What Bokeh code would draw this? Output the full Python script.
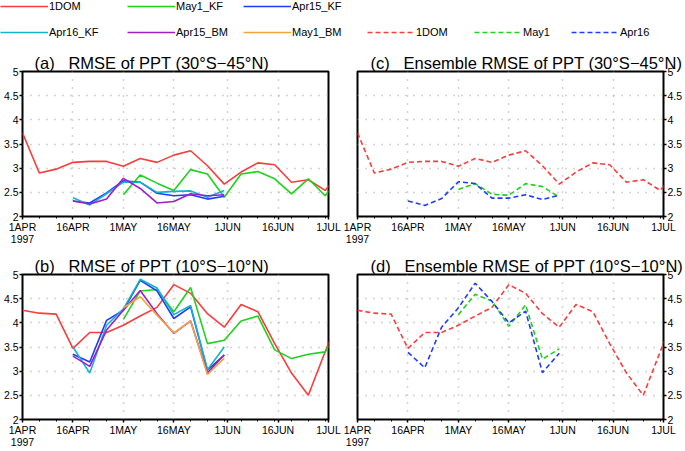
from bokeh.plotting import figure
from bokeh.models import Range1d, FixedTicker, Title, Legend, LegendItem
from bokeh.layouts import column, row
from bokeh.embed import file_html
from bokeh.resources import INLINE

# ---------------- data (days since 1 APR 1997) ----------------
days_dom = [0, 5, 10, 15, 20, 25, 30, 35, 40, 45, 50, 55, 60, 65, 70, 75, 80, 85, 90, 95]
days_apr = [15, 20, 25, 30, 35, 40, 45, 50, 55, 60]
days_may = [30, 35, 40, 45, 50, 55, 60, 65, 70, 75, 80, 85, 90, 95]
days_may_short = [30, 35, 40, 45, 50, 55, 60]

x_tick_days = [0, 15, 30, 45, 61, 76, 91]
x_tick_labels = ["1APR\n1997", "16APR", "1MAY", "16MAY", "1JUN", "16JUN", "1JUL"]
y_ticks = [2, 2.5, 3, 3.5, 4, 4.5, 5]
y_tick_labels = ["2", "2.5", "3", "3.5", "4", "4.5", "5"]

# (a) RMSE 30S-45N
dom_a = [3.73, 2.90, 2.98, 3.12, 3.14, 3.14, 3.04, 3.20, 3.12, 3.27, 3.36, 3.05,
         2.67, 2.92, 3.11, 3.07, 2.71, 2.76, 2.54, 2.96]
may1kf_a = [2.45, 2.86, 2.69, 2.54, 2.97, 2.88, 2.40, 2.88, 2.93, 2.78, 2.47, 2.78, 2.43, 2.85]
apr15kf_a = [2.32, 2.28, 2.49, 2.74, 2.71, 2.48, 2.43, 2.45, 2.36, 2.42]
apr16kf_a = [2.39, 2.24, 2.47, 2.71, 2.71, 2.50, 2.52, 2.53, 2.40, 2.54]
apr15bm_a = [2.32, 2.26, 2.36, 2.79, 2.58, 2.28, 2.31, 2.47, 2.43, 2.45]

# (c) ensemble RMSE 30S-45N
may1_c = [2.56, 2.68, 2.46, 2.44, 2.68, 2.62, 2.40]
apr16_c = [2.32, 2.23, 2.37, 2.72, 2.68, 2.38, 2.38, 2.45, 2.35, 2.44]

# (b) RMSE 10S-10N
dom_b = [4.26, 4.20, 4.18, 3.47, 3.80, 3.80, 3.95, 4.14, 4.32, 4.79, 4.61, 4.19,
         3.91, 4.38, 4.23, 3.57, 2.96, 2.50, 3.40, 4.25]
may1kf_b = [4.07, 4.66, 4.69, 4.23, 4.73, 3.57, 3.64, 4.04, 4.14, 3.44, 3.26, 3.35, 3.40, 3.90]
apr15kf_b = [3.35, 3.19, 4.05, 4.26, 4.88, 4.66, 4.09, 4.33, 3.02, 3.33]
apr16kf_b = [3.50, 2.96, 3.95, 4.29, 4.90, 4.72, 4.17, 4.36, 3.03, 3.50]
apr15bm_b = [3.31, 3.10, 3.85, 4.26, 4.67, 4.19, 3.78, 4.04, 2.96, 3.34]
may1bm_b = [4.31, 4.54, 4.16, 3.79, 4.04, 2.93, 3.27]

# (d) ensemble RMSE 10S-10N
may1_d = [4.17, 4.59, 4.45, 3.93, 4.37, 3.25, 3.46]
apr16_d = [3.39, 3.07, 3.91, 4.31, 4.82, 4.44, 4.00, 4.24, 2.97, 3.37]

# ---------------- styles ----------------
C_RED = "#fa3c3c"
C_GREEN = "#1ed21e"
C_BLUE = "#1e3cff"
C_CYAN = "#14b4c8"
C_PURPLE = "#a01ec8"
C_ORANGE = "#f0a53c"
LW = 1.6
DASH = "5 3"
TICK_FONT = "Liberation Sans"
TITLE_FONT = "Liberation Sans"
GAP = "\u00a0\u00a0\u00a0"


def make_panel(width, height, mb_l, mb_r, mb_t, mb_b, yloc, title_text, title_offset):
    p = figure(width=width, height=height, x_range=Range1d(0, 91), y_range=Range1d(2, 5),
               output_backend="svg", toolbar_location=None, y_axis_location=yloc,
               min_border_left=mb_l, min_border_right=mb_r,
               min_border_top=mb_t, min_border_bottom=mb_b)
    p.background_fill_color = "white"
    p.border_fill_color = "white"
    p.outline_line_color = "black"
    p.outline_line_width = 2
    p.xaxis.ticker = FixedTicker(ticks=x_tick_days, minor_ticks=days_dom)
    p.xaxis.major_label_overrides = dict(zip(x_tick_days, x_tick_labels))
    p.yaxis.ticker = FixedTicker(ticks=y_ticks)
    p.yaxis.major_label_overrides = dict(zip(y_ticks, y_tick_labels))
    for ax in (p.xaxis, p.yaxis):
        ax.axis_line_color = None
        ax.major_tick_line_color = "black"
        ax.major_tick_line_width = 1.5
        ax.major_tick_in = 0
        ax.major_tick_out = 3
        ax.minor_tick_line_color = "black"
        ax.minor_tick_in = 0
        ax.minor_tick_out = 2
        ax.major_label_standoff = 1
        ax.major_label_text_font = TICK_FONT
        ax.major_label_text_font_size = "10.5px"
        ax.major_label_text_color = "black"
    p.yaxis.minor_tick_line_color = None
    p.xaxis.major_label_text_line_height = 1.0
    p.xgrid.ticker = FixedTicker(ticks=x_tick_days[1:-1])
    p.ygrid.ticker = FixedTicker(ticks=y_ticks[1:-1])
    p.grid.grid_line_color = "#a8a8a8"
    p.grid.grid_line_dash = "1 7"
    p.grid.grid_line_width = 1.5
    p.add_layout(Title(text=title_text, align="left", offset=title_offset, standoff=0,
                       text_font=TITLE_FONT, text_font_size="16.5px",
                       text_font_style="normal", text_color="black"), "above")
    return p


pa = make_panel(342, 200, 21, 14, 21, 34, "left",
                "(a)" + GAP + "RMSE of PPT (30\u00b0S\u221245\u00b0N)", 12)
pc = make_panel(343, 200, 15, 20, 21, 34, "right",
                "(c)" + GAP + "Ensemble RMSE of PPT (30\u00b0S\u221245\u00b0N)", 13)
pb = make_panel(342, 201, 21, 14, 24, 32, "left",
                "(b)" + GAP + "RMSE of PPT (10\u00b0S\u221210\u00b0N)", 12)
pd = make_panel(343, 201, 15, 20, 24, 32, "right",
                "(d)" + GAP + "Ensemble RMSE of PPT (10\u00b0S\u221210\u00b0N)", 13)

# (a)
pa.line(days_dom, dom_a, color=C_RED, line_width=LW)
pa.line(days_may, may1kf_a, color=C_GREEN, line_width=LW)
pa.line(days_apr, apr15kf_a, color=C_BLUE, line_width=LW)
pa.line(days_apr, apr16kf_a, color=C_CYAN, line_width=LW)
pa.line(days_apr, apr15bm_a, color=C_PURPLE, line_width=LW)
# (c)
pc.line(days_dom, dom_a, color=C_RED, line_width=LW, line_dash=DASH)
pc.line(days_may_short, may1_c, color=C_GREEN, line_width=LW, line_dash=DASH)
pc.line(days_apr, apr16_c, color=C_BLUE, line_width=LW, line_dash=DASH)
# (b)
pb.line(days_dom, dom_b, color=C_RED, line_width=LW)
pb.line(days_may, may1kf_b, color=C_GREEN, line_width=LW)
pb.line(days_apr, apr15kf_b, color=C_BLUE, line_width=LW)
pb.line(days_apr, apr16kf_b, color=C_CYAN, line_width=LW)
pb.line(days_apr, apr15bm_b, color=C_PURPLE, line_width=LW)
pb.line(days_may_short, may1bm_b, color=C_ORANGE, line_width=LW)
# (d)
pd.line(days_dom, dom_b, color=C_RED, line_width=LW, line_dash=DASH)
pd.line(days_may_short, may1_d, color=C_GREEN, line_width=LW, line_dash=DASH)
pd.line(days_apr, apr16_d, color=C_BLUE, line_width=LW, line_dash=DASH)

# ---------------- legend strip ----------------
leg = figure(width=685, height=50, x_range=Range1d(0, 1), y_range=Range1d(0, 1),
             x_axis_type=None, y_axis_type=None, output_backend="svg", toolbar_location=None,
             min_border_left=0, min_border_right=0, min_border_top=0, min_border_bottom=0)
leg.outline_line_color = None
leg.grid.visible = False

legend_entries = [
    ("1DOM", C_RED, None, 0, 38),
    ("May1_KF", C_GREEN, None, 127, 38),
    ("Apr15_KF", C_BLUE, None, 243, 38),
    ("Apr16_KF", C_CYAN, None, 0, 12),
    ("Apr15_BM", C_PURPLE, None, 127, 12),
    ("May1_BM", C_ORANGE, None, 243, 12),
    ("1DOM", C_RED, DASH, 367, 12),
    ("May1", C_GREEN, DASH, 474, 12),
    ("Apr16", C_BLUE, DASH, 571, 12),
]
for name, col, dash, lx, ly in legend_entries:
    kw = dict(color=col, line_width=LW)
    if dash:
        kw["line_dash"] = dash
    # single-point proxy line: draws nothing in the strip, only styles the legend glyph
    r = leg.line(x=[-1], y=[-1], **kw)
    lg = Legend(items=[LegendItem(label=name, renderers=[r])], location=(lx, ly),
                orientation="horizontal", glyph_width=48, glyph_height=12, label_height=12,
                label_width=10, label_standoff=1, padding=0, margin=0, spacing=0,
                border_line_color=None, background_fill_alpha=0,
                label_text_font=TICK_FONT, label_text_font_size="11px",
                label_text_color="black")
    leg.add_layout(lg)

layout = column(leg, row(pa, pc), row(pb, pd))
open("out.html", "w").write(file_html(layout, INLINE))
